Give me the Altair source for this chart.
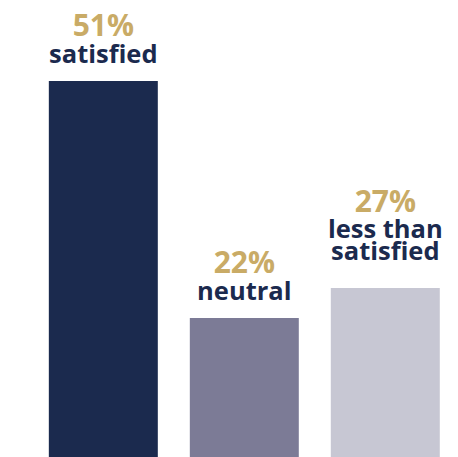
import altair as alt
import pandas as pd

categories = ["satisfied", "neutral", "less than\nsatisfied"]
percents = [51, 22, 27]
bar_colors = ["#1B2A4E", "#7C7B96", "#C7C7D3"]

df = pd.DataFrame({"label": categories, "pct": percents})

x_enc = alt.X("label:N", sort=None, axis=None,
              scale=alt.Scale(paddingInner=0.227, paddingOuter=0.181, align=0.8))
y_scale = alt.Scale(domain=[0, 22, 27, 51], range=[449, 310, 280, 73], nice=False, zero=False)
y_enc = alt.Y("pct:Q", axis=None, scale=y_scale)

base = alt.Chart(df).transform_calculate(
    multi="indexof(datum.label, '\\n') >= 0",
    ptext="datum.pct + '%'",
)
one = base.transform_filter("!datum.multi")
two = base.transform_filter("datum.multi")

bars = alt.Chart(df).mark_bar().encode(
    x=x_enc,
    y=y_enc,
    color=alt.Color("label:N", scale=alt.Scale(domain=categories, range=bar_colors), legend=None),
)

label_style = dict(font="Open Sans", fontWeight="bold", fontSize=25.5, color="#1B2A4E",
                   baseline="alphabetic", align="center", lineBreak="\n", lineHeight=22)
pct_style = dict(font="Open Sans", fontWeight="bold", fontSize=30, color="#C9AB66",
                 baseline="alphabetic", align="center")

labels1 = one.mark_text(dy=-18, **label_style).encode(x=x_enc, y=y_enc, text="label:N")
labels2 = two.mark_text(dy=-50, **label_style).encode(x=x_enc, y=y_enc, text="label:N")
pcts1 = one.mark_text(dy=-45, **pct_style).encode(x=x_enc, y=y_enc, text="ptext:N")
pcts2 = two.mark_text(dy=-76, **pct_style).encode(x=x_enc, y=y_enc, text="ptext:N")

chart = alt.layer(bars, labels1, labels2, pcts1, pcts2).properties(
    width=442, height=449, padding=0, autosize=alt.AutoSizeParams(type="none"),
    background="white",
).configure_view(stroke=None)

chart.save("out.html", embed_options={"renderer": "svg", "actions": False})
